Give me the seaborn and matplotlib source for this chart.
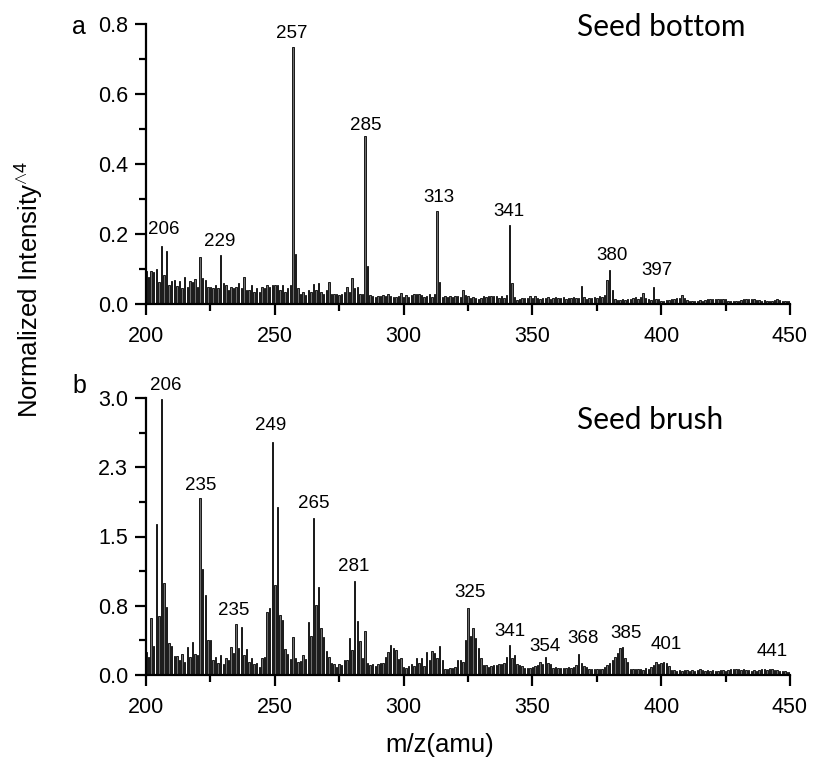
import numpy as np
import pandas as pd
import seaborn as sns
import matplotlib.pyplot as plt
from matplotlib.ticker import MultipleLocator, FixedLocator

# m/z axis, one stick per amu
mz = list(range(200, 451))

# panel a: seed bottom (normalized intensity ^4)
bottom_int = [
    0.094, 0.078, 0.094, 0.092, 0.100, 0.064, 0.166, 0.083, 0.151, 0.054,  # 200-209
    0.067, 0.069, 0.052, 0.067, 0.045, 0.078, 0.050, 0.067, 0.064, 0.071,  # 210-219
    0.048, 0.135, 0.073, 0.070, 0.050, 0.050, 0.045, 0.054, 0.045, 0.140,  # 220-229
    0.059, 0.054, 0.040, 0.050, 0.045, 0.050, 0.059, 0.045, 0.078, 0.040,  # 230-239
    0.040, 0.054, 0.035, 0.045, 0.035, 0.050, 0.045, 0.054, 0.050, 0.054,  # 240-249
    0.054, 0.054, 0.040, 0.054, 0.035, 0.045, 0.054, 0.734, 0.143, 0.045,  # 250-259
    0.028, 0.035, 0.026, 0.040, 0.033, 0.056, 0.040, 0.059, 0.035, 0.030,  # 260-269
    0.040, 0.064, 0.030, 0.028, 0.028, 0.026, 0.030, 0.033, 0.050, 0.035,  # 270-279
    0.075, 0.045, 0.050, 0.030, 0.030, 0.480, 0.110, 0.026, 0.024, 0.021,  # 280-289
    0.023, 0.023, 0.026, 0.023, 0.030, 0.024, 0.021, 0.021, 0.024, 0.032,  # 290-299
    0.021, 0.026, 0.021, 0.026, 0.028, 0.029, 0.029, 0.026, 0.021, 0.024,  # 300-309
    0.030, 0.021, 0.028, 0.265, 0.062, 0.019, 0.023, 0.021, 0.024, 0.021,  # 310-319
    0.023, 0.024, 0.019, 0.040, 0.026, 0.024, 0.016, 0.021, 0.018, 0.014,  # 320-329
    0.018, 0.023, 0.021, 0.022, 0.022, 0.022, 0.022, 0.016, 0.024, 0.018,  # 330-339
    0.026, 0.225, 0.059, 0.019, 0.011, 0.014, 0.016, 0.018, 0.016, 0.024,  # 340-349
    0.018, 0.024, 0.018, 0.014, 0.018, 0.016, 0.021, 0.014, 0.018, 0.021,  # 350-359
    0.016, 0.018, 0.021, 0.014, 0.018, 0.016, 0.021, 0.016, 0.018, 0.051,  # 360-369
    0.021, 0.014, 0.016, 0.018, 0.021, 0.018, 0.024, 0.021, 0.026, 0.070,  # 370-379
    0.097, 0.040, 0.013, 0.011, 0.011, 0.013, 0.011, 0.013, 0.015, 0.016,  # 380-389
    0.019, 0.015, 0.021, 0.032, 0.016, 0.015, 0.011, 0.048, 0.015, 0.013,  # 390-399
    0.009, 0.010, 0.011, 0.011, 0.013, 0.015, 0.018, 0.016, 0.025, 0.016,  # 400-409
    0.011, 0.010, 0.009, 0.010, 0.009, 0.011, 0.010, 0.012, 0.013, 0.014,  # 410-419
    0.015, 0.014, 0.015, 0.015, 0.014, 0.015, 0.010, 0.009, 0.010, 0.009,  # 420-429
    0.010, 0.011, 0.013, 0.014, 0.013, 0.014, 0.013, 0.012, 0.011, 0.010,  # 430-439
    0.011, 0.010, 0.009, 0.010, 0.011, 0.013, 0.011, 0.010, 0.009, 0.008,  # 440-449
    0.008,                                                                 # 450
]

# panel b: seed brush
brush_int = [
    0.25, 0.20, 0.62, 0.31, 1.64, 0.64, 2.99, 1.00, 0.74, 0.35,  # 200-209
    0.31, 0.21, 0.21, 0.16, 0.23, 0.14, 0.30, 0.20, 0.36, 0.23,  # 210-219
    0.22, 1.92, 1.15, 0.87, 0.38, 0.38, 0.16, 0.20, 0.13, 0.22,  # 220-229
    0.12, 0.18, 0.16, 0.30, 0.24, 0.55, 0.29, 0.52, 0.22, 0.28,  # 230-239
    0.14, 0.18, 0.12, 0.13, 0.09, 0.18, 0.19, 0.68, 0.73, 2.52,  # 240-249
    0.97, 1.82, 0.65, 0.60, 0.28, 0.23, 0.17, 0.41, 0.18, 0.14,  # 250-259
    0.15, 0.22, 0.17, 0.57, 0.42, 1.70, 0.76, 0.95, 0.51, 0.41,  # 260-269
    0.26, 0.19, 0.13, 0.12, 0.09, 0.12, 0.11, 0.16, 0.16, 0.40,  # 270-279
    0.27, 1.02, 0.58, 0.37, 0.18, 0.48, 0.13, 0.11, 0.12, 0.10,  # 280-289
    0.12, 0.13, 0.13, 0.20, 0.25, 0.32, 0.29, 0.27, 0.17, 0.18,  # 290-299
    0.09, 0.08, 0.10, 0.12, 0.10, 0.18, 0.13, 0.18, 0.10, 0.25,  # 300-309
    0.16, 0.26, 0.24, 0.18, 0.31, 0.16, 0.07, 0.06, 0.08, 0.08,  # 310-319
    0.09, 0.16, 0.16, 0.14, 0.38, 0.73, 0.42, 0.51, 0.40, 0.29,  # 320-329
    0.18, 0.11, 0.11, 0.09, 0.10, 0.11, 0.11, 0.12, 0.12, 0.13,  # 330-339
    0.20, 0.33, 0.18, 0.22, 0.12, 0.11, 0.10, 0.08, 0.08, 0.08,  # 340-349
    0.09, 0.10, 0.11, 0.14, 0.12, 0.20, 0.13, 0.12, 0.08, 0.09,  # 350-359
    0.08, 0.08, 0.08, 0.08, 0.09, 0.08, 0.09, 0.11, 0.23, 0.13,  # 360-369
    0.10, 0.09, 0.07, 0.06, 0.06, 0.07, 0.06, 0.07, 0.09, 0.11,  # 370-379
    0.13, 0.16, 0.20, 0.24, 0.29, 0.30, 0.18, 0.14, 0.07, 0.07,  # 380-389
    0.065, 0.06, 0.07, 0.05, 0.08, 0.07, 0.09, 0.11, 0.14, 0.12,  # 390-399
    0.13, 0.14, 0.13, 0.10, 0.05, 0.05, 0.04, 0.05, 0.04, 0.05,  # 400-409
    0.05, 0.04, 0.05, 0.04, 0.05, 0.06, 0.05, 0.04, 0.05, 0.04,  # 410-419
    0.05, 0.04, 0.04, 0.05, 0.05, 0.04, 0.05, 0.06, 0.07, 0.06,  # 420-429
    0.06, 0.05, 0.06, 0.05, 0.05, 0.04, 0.05, 0.04, 0.05, 0.06,  # 430-439
    0.06, 0.05, 0.07, 0.06, 0.05, 0.05, 0.04, 0.04, 0.04, 0.03,  # 440-449
    0.03,                                                        # 450
]

# peak annotations: text, x, y (data units of each panel)
bottom_labels = ["206", "229", "257", "285", "313", "341", "380", "397"]
bottom_label_x = [206.7, 228.5, 256.7, 285.2, 313.7, 340.8, 380.9, 398.4]
bottom_label_y = [0.214, 0.180, 0.774, 0.509, 0.304, 0.263, 0.138, 0.095]

brush_labels = ["206", "235", "235", "249", "265", "281", "325", "341", "354", "368", "385", "401", "441"]
brush_label_x = [207.8, 221.2, 234.0, 248.5, 265.0, 280.5, 325.7, 341.2, 354.9, 369.5, 386.3, 402.1, 443.2]
brush_label_y = [3.13, 2.05, 0.70, 2.70, 1.86, 1.17, 0.89, 0.47, 0.31, 0.39, 0.45, 0.33, 0.255]

brush_yticks = [0.0, 0.75, 1.5, 2.25, 3.0]
brush_yticklabels = ["0.0", "0.8", "1.5", "2.3", "3.0"]

sns.set_style("ticks")
plt.rcParams['font.family'] = ['Liberation Sans', 'DejaVu Sans']
plt.rcParams['mathtext.fontset'] = 'custom'
plt.rcParams['mathtext.rm'] = 'Liberation Sans'
plt.rcParams['mathtext.it'] = 'Liberation Sans:italic'
for key in ('text.color', 'axes.labelcolor', 'xtick.color', 'ytick.color', 'axes.edgecolor'):
    plt.rcParams[key] = 'black'

W, H = 815, 762
fig = plt.figure(figsize=(W / 100, H / 100), dpi=100)


def px_axes(left, top, right, bottom):
    return fig.add_axes([left / W, 1 - bottom / H, (right - left) / W, (bottom - top) / H])


def draw_panel(ax, values, ymax, labels, lx, ly):
    df = pd.DataFrame({"mz": mz, "intensity": values})
    sns.barplot(data=df, x="mz", y="intensity", native_scale=True, orient="x",
                width=0.55, color="#6e6e6e", edgecolor="black", linewidth=0.6,
                errorbar=None, ax=ax)
    ax.set_xlim(200, 450)
    ax.set_ylim(0, ymax)
    ax.set_xlabel("")
    ax.set_ylabel("")
    sns.despine(ax=ax)
    for side in ("left", "bottom"):
        ax.spines[side].set_linewidth(1.6)
    ax.xaxis.set_major_locator(MultipleLocator(50))
    ax.xaxis.set_minor_locator(MultipleLocator(25))
    ax.tick_params(which="major", length=8, width=1.6, labelsize=15.5)
    ax.tick_params(which="minor", length=5, width=1.6)
    ax.tick_params(axis="x", which="major", pad=8)
    ax.tick_params(axis="y", which="major", pad=5)
    for t, x, y in zip(labels, lx, ly):
        ax.text(x, y, t, ha="center", va="center", fontsize=13.5, clip_on=False)


ax_a = px_axes(146, 24, 790, 304)
draw_panel(ax_a, bottom_int, 0.8, bottom_labels, bottom_label_x, bottom_label_y)
ax_a.yaxis.set_major_locator(MultipleLocator(0.2))
ax_a.yaxis.set_minor_locator(MultipleLocator(0.1))
ax_a.yaxis.set_major_formatter(plt.FormatStrFormatter("%.1f"))

ax_b = px_axes(146, 398, 790, 675)
draw_panel(ax_b, brush_int, 3.0, brush_labels, brush_label_x, brush_label_y)
ax_b.yaxis.set_major_locator(FixedLocator(brush_yticks))
ax_b.set_yticklabels(brush_yticklabels)
ax_b.yaxis.set_minor_locator(MultipleLocator(0.375))

# panel letters and sample names
fig.text(72 / W, 1 - 33.5 / H, "a", fontsize=18, va="baseline")
fig.text(72 / W, 1 - 393 / H, "b", fontsize=18, va="baseline")
fig.text(577 / W, 1 - 27 / H, "Seed bottom", family=["Lato", "DejaVu Sans"], fontsize=21.5, va="center")
fig.text(577 / W, 1 - 420 / H, "Seed brush", family=["Lato", "DejaVu Sans"], fontsize=21.5, va="center")

fig.text(30 / W, 1 - 290 / H, r"Normalized Intensity$^{\wedge 4}$", rotation=90,
         fontsize=18.5, ha="center", va="center")
fig.text(440 / W, 1 - 745 / H, "m/z(amu)", fontsize=18.5, ha="center", va="center")

fig.savefig("out.png", dpi=100)
